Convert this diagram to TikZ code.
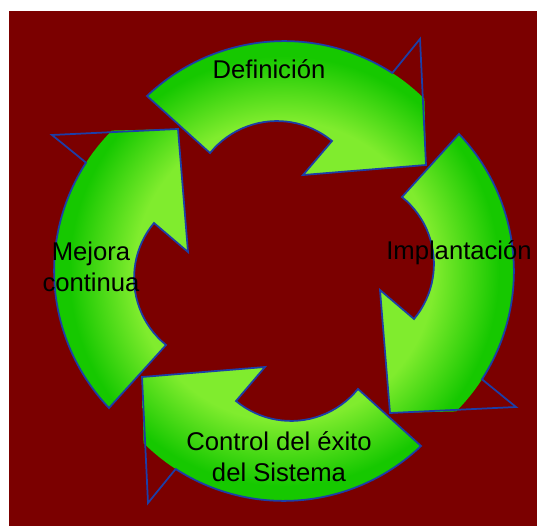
\documentclass[tikz,border=0pt]{standalone}
\usepackage{fontspec}
\setmainfont{Liberation Sans}
\usepackage{tikz}
\definecolor{maroonbg}{RGB}{123,0,0}
\definecolor{lightgr}{RGB}{128,236,46}
\definecolor{darkgr}{RGB}{22,200,0}
\definecolor{rimblue}{RGB}{28,62,168}
\pgfdeclareradialshading{ringgreen}{\pgfpoint{0bp}{0bp}}{%
  color(0bp)=(lightgr);color(15bp)=(lightgr);color(21.5bp)=(darkgr);color(50bp)=(darkgr)}
% one arrow of the cycle (the top one), in pixel units
\newcommand{\arrowfill}{(147,96) arc[start angle=-133.6,end angle=-45.2,radius=199]
  -- (426,165) -- (303,175) -- (332,141) arc[start angle=-50.2,end angle=-141.1,radius=86] -- cycle}
\newcommand{\arrowrim}{(147,96) arc[start angle=-133.6,end angle=-57.1,radius=199]
  -- (420,39) -- (426,165) -- (303,175) -- (332,141) arc[start angle=-50.2,end angle=-141.1,radius=86] -- cycle}

\begin{document}
\begin{tikzpicture}[
  x=0.02cm, y=-0.02cm,
  rim/.style = {rimblue, line width=1pt},
  lbl/.style = {text=black, inner sep=0pt, align=center,
    font=\fontsize{14.6}{17.6}\selectfont}
  ]
  \useasboundingbox (0,0) rectangle (537,526);
  \fill[white] (0,0) rectangle (537,526);
  \fill[maroonbg] (9,11) rectangle (537,526);
  \coordinate (hub) at (284,271);
  % Arrows
  \foreach \k in {0,1,2,3} {
    \begin{scope}[rotate around={-90*\k:(hub)}]
      \begin{scope}
        \clip \arrowfill;
        \shade[shading=ringgreen] (hub) circle[radius=250];
      \end{scope}
      \draw[rim] \arrowrim;
    \end{scope}
  }
  % Labels
  \node[lbl, anchor=base] (defin) at (269,79) {Definición};
  \node[lbl, anchor=base] (implant) at (459,260) {Implantación};
  \node[lbl] (mejora) at (91,267) {Mejora\\continua};
  \node[lbl] (control) at (279,457) {Control del éxito\\del Sistema};
\end{tikzpicture}
\end{document}
